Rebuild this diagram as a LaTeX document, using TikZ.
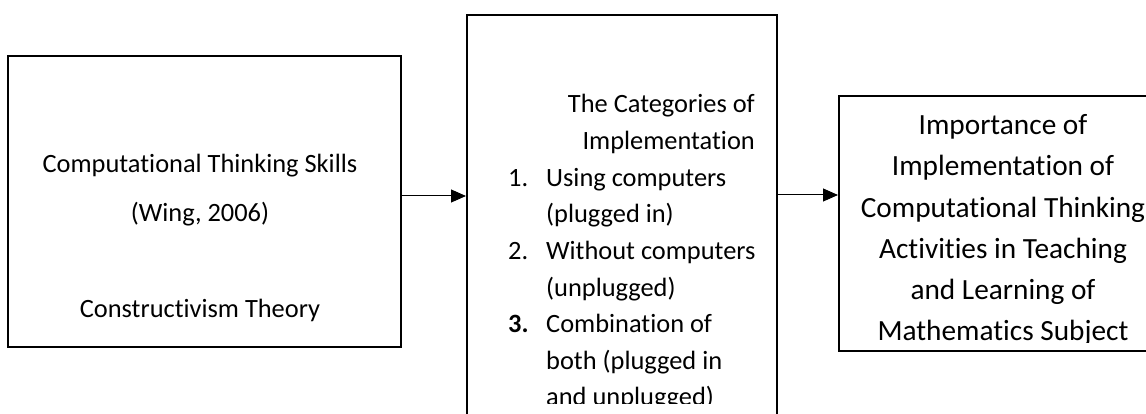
\documentclass[tikz,border=0pt]{standalone}
\usepackage{fontspec}
\setmainfont{Carlito}[Ligatures=NoCommon]
\usetikzlibrary{arrows.meta}

\begin{document}
\begin{tikzpicture}[
	x=1pt, y=-1pt,
	box/.style={draw, line width=2pt, minimum width=#1},
	txt/.style={inner sep=0pt, font=\fontsize{26.4}{36.6}\selectfont},
	flow/.style={-{Triangle[length=15pt, width=13pt]}, line width=1pt}
]
\useasboundingbox (0,0) rectangle (1146,414);
\clip (0,0) rectangle (1146,414);

% Boxes
\node[box=393pt, minimum height=291pt] (ctbox) at (204.5,201.5) {};
\node[box=310pt, minimum height=425pt] (catbox) at (622,227.5) {};
\node[box=331pt, minimum height=255pt] (impbox) at (1004.5,223.5) {};

% Left box text
\node[txt, align=center, anchor=north, font=\fontsize{26.4}{49}\selectfont] (skills) at (200,154) {Computational Thinking Skills\\(Wing, 2006)};
\node[txt, anchor=base] (theory) at (200,317) {Constructivism Theory};

% Middle box text
\node[txt, align=right, anchor=north east] (cattitle) at (755,94) {The Categories of\\Implementation};
\begin{scope}
\clip (470,18) rectangle (774,403);
\node[txt, align=left, anchor=north west] (catlist) at (508,168) {%
	\makebox[38pt][l]{1.}Using computers\\
	\hspace*{38pt}(plugged in)\\
	\makebox[38pt][l]{2.}Without computers\\
	\hspace*{38pt}(unplugged)\\
	\makebox[38pt][l]{\textbf{3.}}Combination of\\
	\hspace*{38pt}both (plugged in\\
	\hspace*{38pt}and unplugged)};
\end{scope}

% Right box text
\begin{scope}
\clip (842,99) rectangle (1146,342);
\node[txt, align=center, anchor=north, font=\fontsize{29.3}{41.2}\selectfont] (importance) at (1003,114.5) {Importance of\\Implementation of\\Computational Thinking\\Activities in Teaching\\and Learning of\\Mathematics Subject};
\end{scope}

% Arrows
\draw[flow] (ctbox.east |- 0,196) -- (catbox.west |- 0,196);
\draw[flow] (catbox.east |- 0,195) -- (impbox.west |- 0,195);

\end{tikzpicture}
\end{document}
